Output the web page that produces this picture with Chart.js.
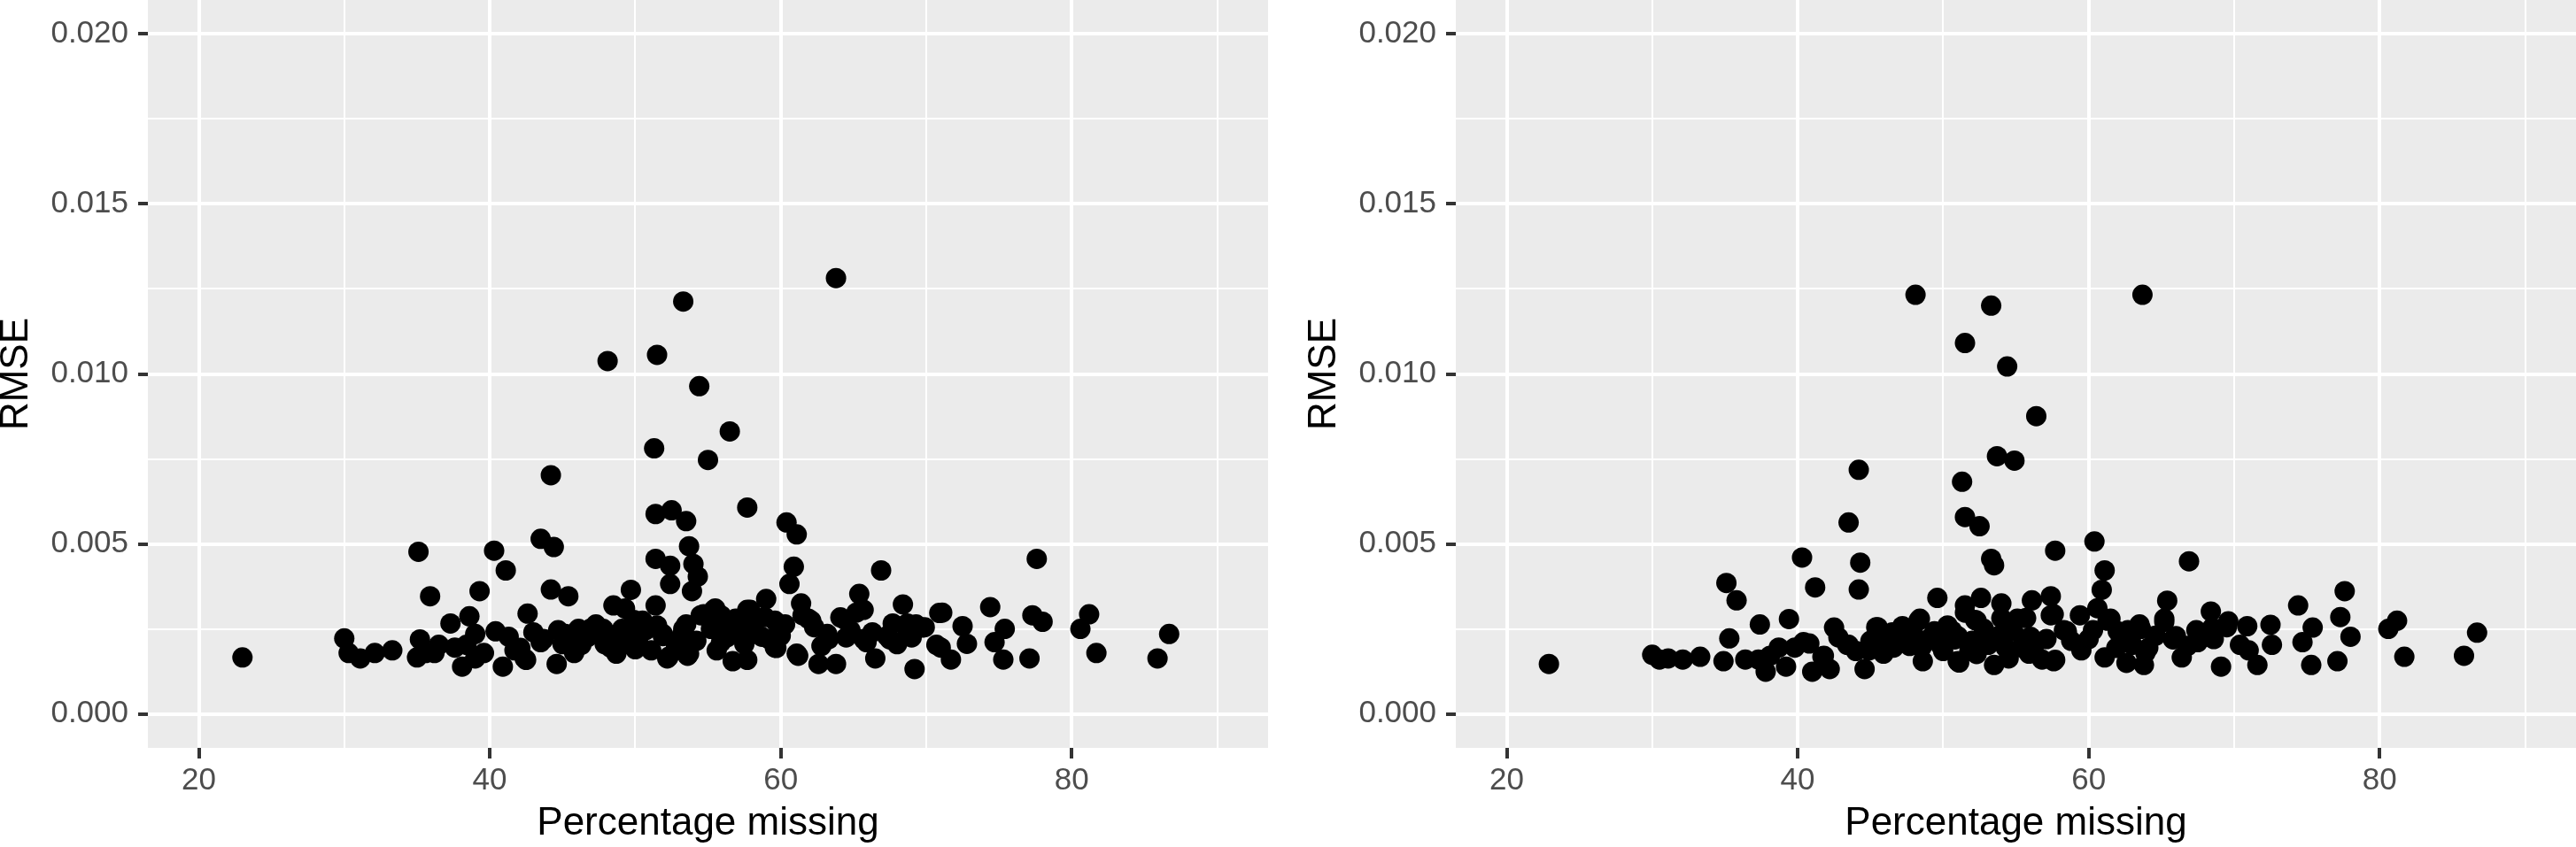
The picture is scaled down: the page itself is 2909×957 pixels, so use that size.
<!DOCTYPE html>
<html>
<head>
<meta charset="utf-8">
<script src="https://cdn.jsdelivr.net/npm/chart.js@4"></script>
<style>
  html, body { margin: 0; padding: 0; background: #fff; }
  #wrap { position: relative; width: 2909px; height: 957px; overflow: hidden; }
  #left { position: absolute; left: 0; top: 0; }
  #right { position: absolute; left: 1477px; top: 0; }
</style>
</head>
<body>
<div id="wrap">
  <canvas id="left" width="1440" height="957"></canvas>
  <canvas id="right" width="1432" height="957"></canvas>
</div>
<script>
// Left panel values (Percentage missing, RMSE)
const leftX = [
  23.0, 30.0, 30.3, 31.1, 32.1, 33.3, 35.1, 35.2, 35.0, 35.9,
  36.2, 37.3, 37.6, 38.1, 38.6, 39.0, 39.3, 39.6, 40.3, 40.4,
  41.1, 40.9, 41.7, 42.6, 42.4, 43.5, 44.2, 44.4, 44.2, 45.4,
  43.5, 44.6, 45.2, 45.8, 46.9, 48.1, 48.5, 48.3, 49.1, 49.7,
  49.7, 51.5, 51.3, 51.4, 52.5, 53.5, 51.4, 52.4, 52.4, 51.4,
  53.3, 54.4, 55.0, 56.5, 53.7, 54.0, 54.3, 53.9, 63.8, 57.7,
  60.4, 61.1, 60.9, 60.6, 61.4, 59.0, 66.9, 65.4, 68.4, 74.4,
  77.6, 77.3, 78.0, 81.2, 80.6, 81.7, 85.9, 86.7, 75.3, 77.1,
  75.4, 74.7, 72.5, 72.8, 71.7, 71.1, 71.0, 69.7, 69.2, 68.7,
  67.7, 67.5, 66.5, 65.9, 65.2, 64.4, 63.8, 62.6, 63.2, 62.1,
  61.2, 61.5, 59.6, 59.6, 58.7, 57.9, 57.3, 56.7, 55.9, 55.4,
  55.6, 54.5, 53.6, 53.3, 52.2, 51.1, 51.9, 50.3, 50.5, 47.4,
  46.0, 46.3, 41.3, 38.4, 39.0, 36.5, 35.6, 49.3, 55.5, 57.7,
  54.7, 56.9, 61.9, 64.1, 65.7, 69.3, 70.9, 57.7, 42.1, 43.7,
  44.7, 46.1, 47.3, 48.5, 48.7, 49.9, 50.7, 52.3, 51.9, 53.5,
  53.7, 55.9, 57.1, 58.3, 59.7, 60.3, 61.1, 62.3, 63.3, 65.7,
  67.3, 68.7, 69.9, 70.7, 42.5, 56.1, 58.9, 64.8, 50.0, 47.9,
  43.0, 45.0, 46.7, 47.8, 49.0, 50.2, 51.5, 52.8, 53.2, 54.2,
  55.2, 56.3, 57.5, 58.0, 59.2, 60.0, 62.8, 64.5, 66.3, 68.0,
  69.0
];
const leftY = [
  0.00166, 0.00222, 0.00179, 0.00163, 0.00179, 0.00187, 0.00477, 0.00219, 0.00166, 0.00346,
  0.00179, 0.00266, 0.00195, 0.00139, 0.00287, 0.00235, 0.00361, 0.00179, 0.00480, 0.00243,
  0.00422, 0.00139, 0.00187, 0.00295, 0.00163, 0.00515, 0.00702, 0.00491, 0.00366, 0.00346,
  0.00211, 0.00147, 0.00235, 0.00179, 0.00250, 0.01038, 0.00319, 0.00195, 0.00250, 0.00365,
  0.00203, 0.01056, 0.00781, 0.00588, 0.00599, 0.00567, 0.00456, 0.00436, 0.00382, 0.00319,
  0.01213, 0.00964, 0.00747, 0.00831, 0.00493, 0.00441, 0.00404, 0.00361, 0.01282, 0.00607,
  0.00563, 0.00528, 0.00433, 0.00382, 0.00325, 0.00338, 0.00422, 0.00353, 0.00322, 0.00314,
  0.00456, 0.00290, 0.00271, 0.00293, 0.00250, 0.00179, 0.00163, 0.00235, 0.00160, 0.00163,
  0.00250, 0.00211, 0.00258, 0.00206, 0.00160, 0.00298, 0.00195, 0.00254, 0.00132, 0.00266,
  0.00266, 0.00219, 0.00163, 0.00211, 0.00298, 0.00277, 0.00147, 0.00147, 0.00235, 0.00274,
  0.00171, 0.00290, 0.00274, 0.00195, 0.00227, 0.00306, 0.00258, 0.00155, 0.00290, 0.00306,
  0.00187, 0.00290, 0.00171, 0.00250, 0.00163, 0.00187, 0.00235, 0.00235, 0.00274, 0.00235,
  0.00243, 0.00203, 0.00227, 0.00203, 0.00163, 0.00203, 0.00179, 0.00310, 0.00310, 0.00306,
  0.00293, 0.00280, 0.00280, 0.00284, 0.00306, 0.00263, 0.00297, 0.00159, 0.00194, 0.00220,
  0.00246, 0.00250, 0.00263, 0.00220, 0.00177, 0.00276, 0.00246, 0.00168, 0.00229, 0.00263,
  0.00177, 0.00211, 0.00246, 0.00237, 0.00194, 0.00263, 0.00177, 0.00255, 0.00220, 0.00220,
  0.00229, 0.00237, 0.00255, 0.00203, 0.00159, 0.00250, 0.00285, 0.00245, 0.00190, 0.00205,
  0.00240, 0.00205, 0.00225, 0.00250, 0.00230, 0.00210, 0.00260, 0.00200, 0.00230, 0.00215,
  0.00250, 0.00225, 0.00205, 0.00265, 0.00220, 0.00230, 0.00200, 0.00225, 0.00240, 0.00205,
  0.00225
];

// Right panel values
const rightX = [
  22.9, 30.0, 30.5, 31.1, 32.1, 33.3, 35.1, 35.8, 35.3, 34.9,
  36.4, 37.4, 37.8, 38.7, 39.4, 39.2, 40.3, 41.2, 40.4, 41.0,
  41.8, 42.5, 42.2, 43.5, 44.2, 44.3, 44.2, 43.5, 44.6, 45.5,
  44.9, 46.0, 47.2, 48.1, 48.3, 48.6, 49.6, 49.4, 51.5, 51.3,
  51.5, 52.5, 53.3, 53.5, 51.5, 52.6, 51.5, 52.3, 53.3, 54.4,
  56.4, 53.7, 54.9, 54.0, 54.0, 56.1, 57.4, 57.7, 60.4, 61.1,
  60.9, 60.6, 63.7, 66.9, 65.4, 68.4, 74.4, 77.6, 77.3, 78.0,
  81.2, 80.6, 81.7, 85.8, 86.7, 75.3, 77.1, 75.4, 74.7, 72.5,
  72.6, 71.6, 70.9, 71.0, 69.5, 69.1, 68.5, 67.5, 66.4, 65.8,
  65.2, 63.6, 63.9, 63.8, 62.6, 63.0, 62.0, 61.1, 61.3, 59.4,
  59.5, 58.5, 57.6, 57.4, 56.8, 55.7, 56.0, 55.4, 54.5, 53.5,
  53.1, 52.3, 51.0, 50.8, 49.8, 48.5, 47.4, 46.6, 45.8, 39.8,
  38.1, 37.3, 52.2, 57.6, 41.7, 43.4, 45.4, 45.9, 48.4, 48.6,
  49.6, 51.0, 51.8, 53.0, 53.8, 55.1, 55.5, 55.9, 57.1, 58.3,
  59.5, 60.3, 61.5, 61.9, 62.7, 63.5, 64.1, 65.2, 66.0, 67.4,
  68.6, 69.6, 70.4, 40.8, 51.1, 57.7, 47.9, 50.3, 42.8, 44.0,
  45.0, 46.5, 47.7, 49.0, 50.0, 50.6, 52.0, 52.8, 54.3, 54.8,
  56.4, 58.8, 60.0, 62.3, 64.6, 66.8, 67.9
];
const rightY = [
  0.00147, 0.00174, 0.00160, 0.00163, 0.00160, 0.00168, 0.00385, 0.00334, 0.00222, 0.00155,
  0.00160, 0.00263, 0.00124, 0.00195, 0.00279, 0.00139, 0.00460, 0.00372, 0.00211, 0.00124,
  0.00171, 0.00254, 0.00132, 0.00563, 0.00718, 0.00445, 0.00366, 0.00203, 0.00132, 0.00255,
  0.00187, 0.00219, 0.00258, 0.01233, 0.00274, 0.00155, 0.00341, 0.00243, 0.01091, 0.00683,
  0.00579, 0.00552, 0.00456, 0.00437, 0.00319, 0.00341, 0.00298, 0.00274, 0.01201, 0.01022,
  0.00876, 0.00758, 0.00745, 0.00325, 0.00282, 0.00334, 0.00346, 0.00480, 0.00507, 0.00422,
  0.00365, 0.00311, 0.01233, 0.00449, 0.00333, 0.00301, 0.00319, 0.00361, 0.00285, 0.00227,
  0.00274, 0.00250, 0.00168, 0.00171, 0.00239, 0.00144, 0.00155, 0.00254, 0.00211, 0.00262,
  0.00203, 0.00144, 0.00258, 0.00187, 0.00255, 0.00139, 0.00254, 0.00211, 0.00166, 0.00219,
  0.00271, 0.00250, 0.00179, 0.00144, 0.00150, 0.00203, 0.00243, 0.00166, 0.00274, 0.00290,
  0.00187, 0.00243, 0.00155, 0.00290, 0.00160, 0.00282, 0.00227, 0.00195, 0.00163, 0.00144,
  0.00203, 0.00176, 0.00155, 0.00219, 0.00203, 0.00195, 0.00219, 0.00195, 0.00187, 0.00195,
  0.00171, 0.00160, 0.00276, 0.00293, 0.00168, 0.00203, 0.00255, 0.00177, 0.00280, 0.00203,
  0.00237, 0.00229, 0.00185, 0.00211, 0.00229, 0.00280, 0.00220, 0.00177, 0.00220, 0.00246,
  0.00203, 0.00246, 0.00280, 0.00194, 0.00246, 0.00263, 0.00194, 0.00280, 0.00229, 0.00246,
  0.00220, 0.00272, 0.00203, 0.00207, 0.00151, 0.00159, 0.00240, 0.00260, 0.00225, 0.00185,
  0.00215, 0.00240, 0.00200, 0.00220, 0.00185, 0.00245, 0.00215, 0.00250, 0.00195, 0.00245,
  0.00210, 0.00215, 0.00220, 0.00220, 0.00230, 0.00200, 0.00235
];

// Axis ticks: majors are labelled, minors only get a thin grid line
const xTicks = [20, 30, 40, 50, 60, 70, 80, 90];
const xMajor = [20, 40, 60, 80];
const yTicks = [0, 0.0025, 0.005, 0.0075, 0.01, 0.0125, 0.015, 0.0175, 0.02];
const yMajor = [0, 0.005, 0.01, 0.015, 0.02];

const FONT = 'Liberation Sans, Arial, Helvetica, sans-serif';

function isIn(list, v) {
  return list.some(m => Math.abs(m - v) < 1e-9);
}

const panelBg = {
  id: 'panelBg',
  beforeDraw(chart) {
    const { ctx, chartArea: a } = chart;
    ctx.save();
    ctx.fillStyle = '#FFFFFF';
    ctx.fillRect(0, 0, chart.width, chart.height);
    ctx.fillStyle = '#EBEBEB';
    ctx.fillRect(a.left, a.top, a.right - a.left, a.bottom - a.top);
    ctx.restore();
  }
};

function makeChart(id, xs, ys, padRight) {
  const points = xs.map((x, i) => ({ x: x, y: ys[i] }));
  return new Chart(document.getElementById(id), {
    type: 'scatter',
    data: {
      datasets: [{
        data: points,
        backgroundColor: '#000000',
        borderWidth: 0,
        pointRadius: 11.5,
        pointHoverRadius: 11.5,
        clip: false
      }]
    },
    plugins: [panelBg],
    options: {
      responsive: false,
      animation: false,
      layout: { autoPadding: false, padding: { left: 0, right: padRight, top: 0, bottom: 0 } },
      plugins: { legend: { display: false }, tooltip: { enabled: false } },
      scales: {
        x: {
          type: 'linear',
          min: 16.5,
          max: 93.5,
          afterBuildTicks: s => { s.ticks = xTicks.map(v => ({ value: v })); },
          afterFit: s => { s.height = 112; s.paddingLeft = 0; s.paddingRight = 0; },
          border: { display: false },
          grid: {
            color: '#FFFFFF',
            lineWidth: c => isIn(xMajor, c.tick.value) ? 4 : 2,
            tickColor: c => isIn(xMajor, c.tick.value) ? '#333333' : 'rgba(0,0,0,0)',
            tickLength: 12,
            tickWidth: 4
          },
          ticks: {
            autoSkip: false,
            maxRotation: 0,
            padding: 4,
            color: '#4D4D4D',
            font: { family: FONT, size: 35 },
            callback: v => isIn(xMajor, v) ? String(v) : ''
          },
          title: {
            display: true,
            text: 'Percentage missing',
            color: '#000000',
            font: { family: FONT, size: 44, lineHeight: 0.86 },
            padding: { top: 0, bottom: 7 }
          }
        },
        y: {
          type: 'linear',
          min: -0.001,
          max: 0.021,
          afterBuildTicks: s => { s.ticks = yTicks.map(v => ({ value: v })); },
          afterFit: s => { s.width = 167; s.paddingTop = 0; s.paddingBottom = 0; },
          border: { display: false },
          grid: {
            color: '#FFFFFF',
            lineWidth: c => isIn(yMajor, c.tick.value) ? 4 : 2,
            tickColor: c => isIn(yMajor, c.tick.value) ? '#333333' : 'rgba(0,0,0,0)',
            tickLength: 11,
            tickWidth: 4
          },
          ticks: {
            autoSkip: false,
            padding: 11,
            color: '#4D4D4D',
            font: { family: FONT, size: 35 },
            callback: v => isIn(yMajor, v) ? v.toFixed(3) : ''
          },
          title: {
            display: true,
            text: 'RMSE',
            color: '#000000',
            font: { family: FONT, size: 44, lineHeight: 0.86 },
            padding: { top: 0, bottom: 0 }
          }
        }
      }
    }
  });
}

makeChart('left', leftX, leftY, 8);
makeChart('right', rightX, rightY, 0);
</script>
</body>
</html>
